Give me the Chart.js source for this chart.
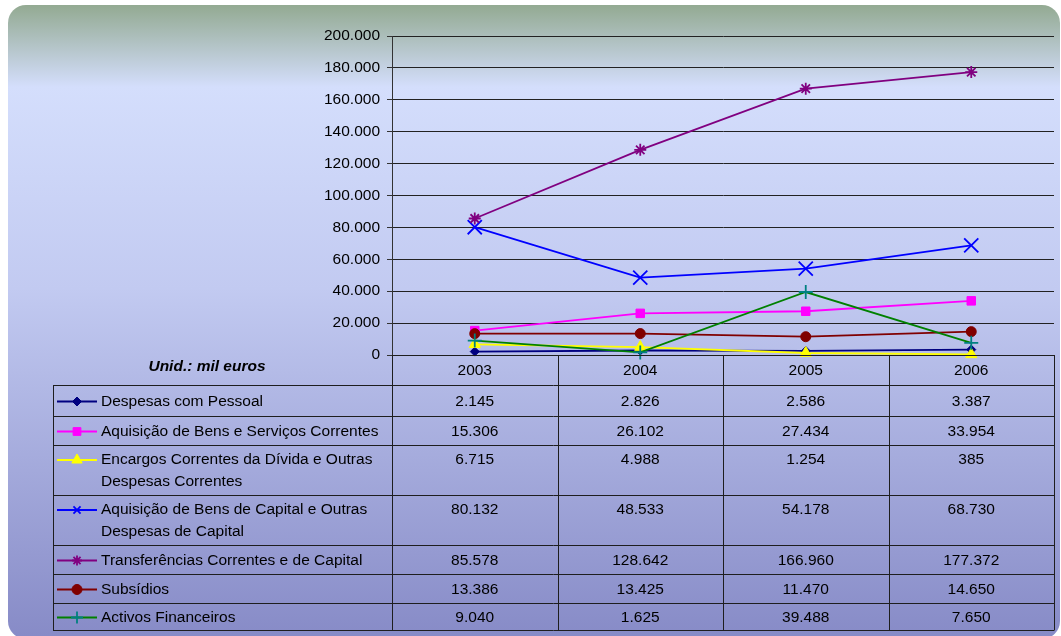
<!DOCTYPE html>
<html>
<head>
<meta charset="utf-8">
<script src="https://cdn.jsdelivr.net/npm/chart.js@4/dist/chart.umd.min.js"></script>
<style>
  html, body { margin: 0; padding: 0; background: #fff; }
  #wrap { width: 1061px; height: 636px; }
</style>
</head>
<body>
<div id="wrap"><canvas id="chart" width="1061" height="636"></canvas></div>
<script>
// dados (Unid.: mil euros)
const years = ['2003', '2004', '2005', '2006'];
const despesasPessoal = [2145, 2826, 2586, 3387];
const bensServicos = [15306, 26102, 27434, 33954];
const encargosDivida = [6715, 4988, 1254, 385];
const bensCapital = [80132, 48533, 54178, 68730];
const transferencias = [85578, 128642, 166960, 177372];
const subsidios = [13386, 13425, 11470, 14650];
const activosFinanceiros = [9040, 1625, 39488, 7650];

const seriesNames = [
  'Despesas com Pessoal',
  'Aquisição de Bens e Serviços Correntes',
  'Encargos Correntes da Dívida e Outras\nDespesas Correntes',
  'Aquisição de Bens de Capital e Outras\nDespesas de Capital',
  'Transferências Correntes e de Capital',
  'Subsídios',
  'Activos Financeiros'
];
const seriesValues = [despesasPessoal, bensServicos, encargosDivida, bensCapital, transferencias, subsidios, activosFinanceiros];
const unitLabel = 'Unid.: mil euros';
const yMax = 200000;
const yStep = 20000;

// estilos (Excel)
const lineColors = ['#000080', '#ff00ff', '#ffff00', '#0000ff', '#800080', '#800000', '#008000'];
const markerColors = ['#000080', '#ff00ff', '#ffff00', '#0000ff', '#800080', '#800000', '#008080'];
const markerStyles = ['rectRot', 'rect', 'triangle', 'crossRot', 'star', 'circle', 'cross'];
const markerSizes = [4.5, 6, 6.5, 10, 6, 5, 7];
const legendSizes = [4.5, 5.5, 6, 5, 5, 5, 6];
const rowHeights = [30, 31, 29, 50, 50, 29, 29, 27];

const FONT = '"Liberation Sans", Arial, sans-serif';
const FS = 15.5;

function fmt(v) {
  return String(v).replace(/\B(?=(\d{3})+(?!\d))/g, '.');
}

const thin = s => (s === 'crossRot' || s === 'cross' || s === 'star') ? 1.8 : 1;

const datasets = seriesValues.map((vals, i) => ({
  label: seriesNames[i],
  data: vals,
  borderColor: lineColors[i],
  borderWidth: 1.8,
  backgroundColor: markerColors[i],
  pointStyle: markerStyles[i],
  pointRadius: markerSizes[i],
  pointBorderColor: markerColors[i],
  pointBackgroundColor: markerColors[i],
  pointBorderWidth: thin(markerStyles[i]),
  tension: 0,
  fill: false,
  clip: false,
  order: seriesValues.length - i
}));

const panelPlugin = {
  id: 'panel',
  beforeDraw(chart) {
    const ctx = chart.ctx;
    ctx.save();
    ctx.fillStyle = '#ffffff';
    ctx.fillRect(0, 0, chart.width, chart.height);
    const g = ctx.createLinearGradient(0, 5, 0, 636);
    g.addColorStop(0, '#93aa92');
    g.addColorStop(0.13, '#d4defc');
    g.addColorStop(0.45, '#c2caf1');
    g.addColorStop(1, '#878bc7');
    ctx.fillStyle = g;
    ctx.beginPath();
    ctx.roundRect(8, 5, 1052, 634, 18);
    ctx.fill();
    ctx.restore();
  }
};

const tablePlugin = {
  id: 'dataTable',
  afterDraw(chart) {
    const { ctx, chartArea } = chart;
    const x = chart.scales.x;
    const tableLeft = 53;
    const top = chartArea.bottom;

    const rows = [top];
    rowHeights.forEach(h => rows.push(rows[rows.length - 1] + h));
    const bottom = rows[rows.length - 1];

    const cols = [chartArea.left];
    for (let i = 0; i < years.length - 1; i++) {
      cols.push(Math.round((x.getPixelForValue(i) + x.getPixelForValue(i + 1)) / 2));
    }
    cols.push(chartArea.right);

    ctx.save();
    ctx.strokeStyle = '#1e1e1e';
    ctx.lineWidth = 1;
    ctx.beginPath();
    // horizontais
    ctx.moveTo(chartArea.left, top + 0.5);
    ctx.lineTo(chartArea.right, top + 0.5);
    for (let r = 1; r < rows.length; r++) {
      ctx.moveTo(tableLeft, rows[r] + 0.5);
      ctx.lineTo(chartArea.right, rows[r] + 0.5);
    }
    // verticais
    ctx.moveTo(tableLeft + 0.5, rows[1]);
    ctx.lineTo(tableLeft + 0.5, bottom + 0.5);
    cols.forEach(cx => {
      ctx.moveTo(cx + 0.5, top);
      ctx.lineTo(cx + 0.5, bottom + 0.5);
    });
    ctx.stroke();

    ctx.fillStyle = '#000';
    ctx.textBaseline = 'middle';
    ctx.textAlign = 'center';
    ctx.font = FS + 'px ' + FONT;
    years.forEach((yr, i) => {
      ctx.fillText(yr, x.getPixelForValue(i), (rows[0] + rows[1]) / 2 + 0.5);
    });

    ctx.font = 'italic bold ' + FS + 'px ' + FONT;
    ctx.fillText(unitLabel, 207, top + 12);

    seriesNames.forEach((name, s) => {
      const rTop = rows[s + 1];
      const lines = name.split('\n');
      const firstY = lines.length > 1 ? rTop + 15 : (rTop + rows[s + 2]) / 2 + 1;

      // marcador da legenda
      ctx.save();
      ctx.strokeStyle = lineColors[s];
      ctx.lineWidth = 1.8;
      ctx.beginPath();
      ctx.moveTo(57, firstY);
      ctx.lineTo(97, firstY);
      ctx.stroke();
      ctx.strokeStyle = markerColors[s];
      ctx.fillStyle = markerColors[s];
      ctx.lineWidth = thin(markerStyles[s]);
      Chart.helpers.drawPoint(ctx, { pointStyle: markerStyles[s], radius: legendSizes[s], rotation: 0, borderWidth: ctx.lineWidth }, 77, firstY);
      ctx.restore();

      ctx.fillStyle = '#000';
      ctx.font = FS + 'px ' + FONT;
      ctx.textAlign = 'left';
      lines.forEach((ln, k) => ctx.fillText(ln, 101, firstY + k * 21.5));

      ctx.textAlign = 'center';
      seriesValues[s].forEach((v, i) => {
        ctx.fillText(fmt(v), x.getPixelForValue(i), firstY);
      });
    });
    ctx.restore();
  }
};

new Chart(document.getElementById('chart').getContext('2d'), {
  type: 'line',
  data: { labels: years, datasets: datasets },
  options: {
    responsive: false,
    animation: false,
    devicePixelRatio: 1,
    layout: { autoPadding: false, padding: { left: 0, right: 7, top: 36, bottom: 281 } },
    plugins: {
      legend: { display: false },
      tooltip: { enabled: false }
    },
    scales: {
      x: {
        type: 'category',
        display: false,
        offset: true
      },
      y: {
        min: 0,
        max: yMax,
        ticks: {
          stepSize: yStep,
          color: '#000',
          padding: 7,
          font: { family: FONT, size: FS },
          callback: v => fmt(v)
        },
        grid: {
          color: '#222',
          lineWidth: 1,
          drawTicks: true,
          tickLength: 5,
          tickColor: '#333'
        },
        border: { display: true, color: '#333', width: 1 },
        afterFit(scale) { scale.width = 392; }
      }
    }
  },
  plugins: [panelPlugin, tablePlugin]
});
</script>
</body>
</html>
